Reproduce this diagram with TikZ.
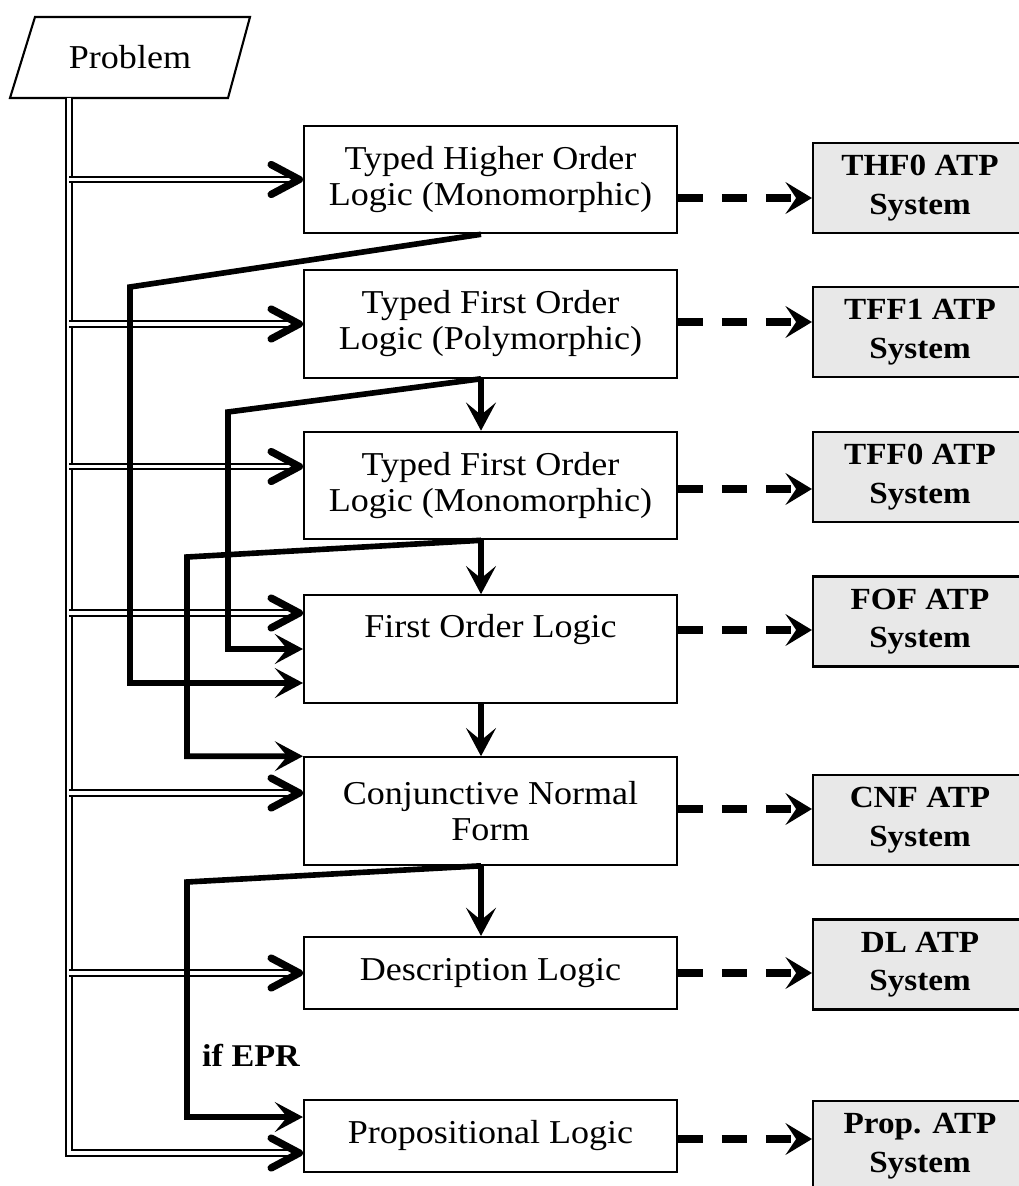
\documentclass[tikz,border=0pt]{standalone}
\usepackage{fontspec}
\setmainfont{Liberation Serif}[FakeStretch=1.08]
\usetikzlibrary{arrows.meta}

\tikzset{
  logic/.style={draw, line width=1.2pt, minimum width=7.46cm, inner sep=0pt, align=center, font=\fontsize{19}{20.5}\selectfont},
  twoline/.style={logic, minimum height=2.15cm},
  oneline/.style={logic, minimum height=1.44cm},
  atp/.style={draw, line width=1.2pt, fill=gray!18, minimum width=4.28cm, minimum height=1.8cm, inner sep=0pt, align=center, font=\bfseries\fontsize{17.5}{22}\selectfont},
  dbl/.style={double, double distance=2pt, line width=1.2pt, -{Straight Barb[length=16pt,width=17pt,line width=4.2pt,round]}},
  feed/.style={line width=3.2pt, -{Stealth[length=16pt,width=17pt,inset=7pt]}},
  sysarrow/.style={line width=4.2pt, dash pattern=on 14.2pt off 10.8pt, -{Stealth[length=15pt,width=18pt,inset=6pt]}},
}

\begin{document}
\begin{tikzpicture}[x=0.02cm, y=-0.02cm]
  \useasboundingbox (0,0) rectangle (1018,1186);

  % input
  \draw [line width=1.2pt] (35,17) -- (250,17) -- (228,98) -- (10,98) -- cycle;
  \node [font=\fontsize{19}{20.5}\selectfont] (problem) at (130,57) {Problem};
  \coordinate (trunk) at (69,98);

  % logics
  \def\lx{490.5}
  \node [twoline] (thf) at (\lx,179.5) {Typed Higher Order\\Logic (Monomorphic)};
  \node [twoline] (tffp) at (\lx,324) {Typed First Order\\Logic (Polymorphic)};
  \node [twoline] (tffm) at (\lx,485.5) {Typed First Order\\Logic (Monomorphic)};
  \node [twoline] (fol) at (\lx,649) {First Order Logic\\\strut};
  \node [twoline] (cnf) at (\lx,811) {Conjunctive Normal\\Form};
  \node [oneline] (dl) at (\lx,973) {Description Logic};
  \node [oneline] (prop) at (\lx,1136) {Propositional Logic};

  % provers
  \def\sx{920}
  \node [atp] (thfsys) at (\sx,188) {THF0 ATP\\System};
  \node [atp] (tffpsys) at (\sx,332) {TFF1 ATP\\System};
  \node [atp] (tffmsys) at (\sx,477) {TFF0 ATP\\System};
  \node [atp] (folsys) at (\sx,621.5) {FOF ATP\\System};
  \node [atp] (cnfsys) at (\sx,820) {CNF ATP\\System};
  \node [atp] (dlsys) at (\sx,964.5) {DL ATP\\System};
  \node [atp] (propsys) at (\sx,1146) {Prop. ATP\\System};

  % problem to each logic
  \draw [dbl] (trunk) |- ([yshift=-.34cm]prop.west);
  \foreach \n/\dy in {thf/0, tffp/0, tffm/.38, fol/.72, cnf/.36, dl/0}
    \draw [dbl] ([yshift=\dy cm]\n.west -| trunk) -- ([yshift=\dy cm]\n.west);

  % translations
  \draw [feed] ([xshift=-.19cm]thf.south) -- (130,287) |- ([yshift=-.68cm]fol.west);
  \draw [feed] ([xshift=-.19cm]tffp.south) -- (228,412) |- (fol.west);
  \draw [feed] ([xshift=-.19cm]tffm.south) -- (187,557) |- (cnf.north west);
  \draw [feed] ([xshift=-.19cm]cnf.south) -- (187,882) |- ([yshift=.38cm]prop.west);
  \foreach \a/\b in {tffp/tffm, tffm/fol, fol/cnf, cnf/dl}
    \draw [feed] ([xshift=-.19cm]\a.south) -- ([xshift=-.19cm]\b.north);
  \node [font=\bfseries\fontsize{18}{20.5}\selectfont] (epr) at (251,1055) {if EPR};

  % to the systems
  \foreach \a/\b/\dy in {thf/thfsys/-.37, tffp/tffpsys/.04, tffm/tffmsys/-.07, fol/folsys/.38, cnf/cnfsys/.04, dl/dlsys/0, prop/propsys/-.06}
    \draw [sysarrow] ([yshift=\dy cm]\a.east) -- ([yshift=\dy cm]\a.east -| \b.west);
\end{tikzpicture}
\end{document}
